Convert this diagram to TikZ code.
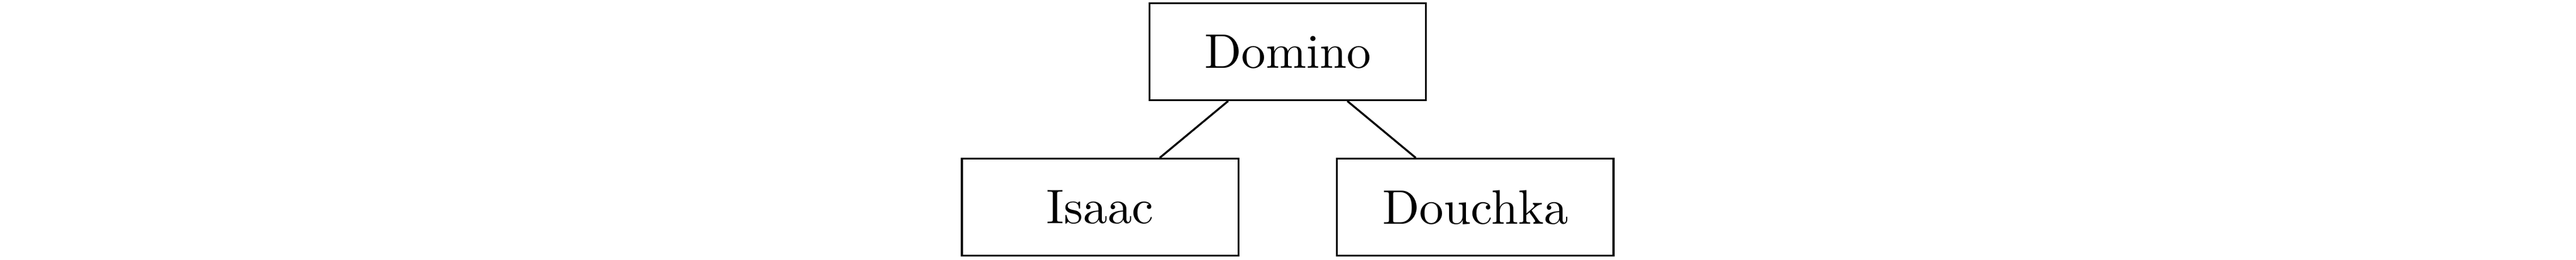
\documentclass[tikz,border=0pt]{standalone}
\usepackage{tikz}
\usetikzlibrary{positioning}

\begin{document}
\begin{tikzpicture}[-,auto,node distance=32.1pt,
					  main node/.style={rectangle,draw,minimum width=2cm,minimum height=20pt}]
					  \useasboundingbox (-265pt,-42.86pt) rectangle (265.1pt,10.64pt);
					
					  \node[main node] (domino) {Domino};
					  \node[main node] (isaac) [below of=domino, xshift=-38.6pt] {Isaac};
					  \node[main node] (douchka) [below of=domino, xshift=38.6pt] {Douchka};
					  
					  \path
					    (domino) edge[] node {} (isaac)
					    (domino) edge[] node {} (douchka)
					;
					\end{tikzpicture}
\end{document}
